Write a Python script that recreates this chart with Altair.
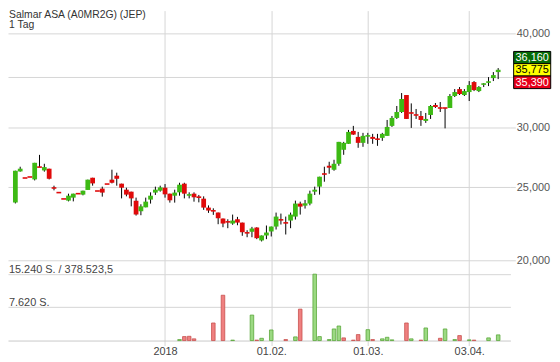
import altair as alt
import pandas as pd

FONT = "Liberation Sans, Arial, sans-serif"

title_lines = ["Salmar ASA (A0MR2G) (JEP)", "1 Tag"]

# candle direction (u = green, d = red)
candle_dir = list(
    "uuddududdd" "duuduudddd" "dddddduuuu" "udduududdd" "dddddudddu"
    "duuuudduud" "uuuudduuuu" "dduudduuuu" "udddduuddd" "uuduuduuuu" "u"
)

opens = [23860, 26240, 25720, 25800, 25610, 26590, 26320, 26460, 24950, 24600,
         24130, 24005, 24225, 24520, 24450, 24800, 25740, 24720, 24900, 25250,
         25590, 25900, 25280, 24820, 24670, 24005, 23240, 23520, 24080, 24600,
         24745, 24970, 24520, 24370, 24620, 25280, 24425, 24520, 24320, 24150,
         23500, 23270, 23150, 22730, 22500, 22385, 22680, 22450, 21760, 21830,
         22115, 21260, 21585, 21850, 22180, 22640, 22430, 22590, 22865, 23790,
         23640, 23790, 24670, 25050, 26035, 26700, 26375, 26860, 28030, 28545,
         29690, 29155, 28630, 29245, 29155, 28955, 29070, 29245, 30150, 30890,
         31455, 33125, 31360, 31170, 31075, 30610, 31170, 32130, 31840, 31840,
         31840, 33025, 33730, 33125, 33425, 34460, 33525, 34250, 34460, 34880,
         35525]
highs = [26300, 26620, 25720, 25800, 26940, 27600, 26860, 26460, 25125, 24600,
         24130, 24520, 24520, 24520, 24745, 25590, 25740, 24720, 25050, 25250,
         26380, 26140, 25280, 24970, 24670, 24225, 23740, 24225, 24620, 25050,
         25125, 25250, 24520, 24820, 25350, 25350, 24620, 24620, 24425, 24320,
         23660, 23450, 23150, 22730, 22680, 23005, 22845, 22450, 21935, 22160,
         22135, 21585, 22250, 22180, 23145, 23075, 22865, 23145, 24005, 23930,
         24055, 24745, 25050, 25820, 26620, 27025, 27190, 28715, 28715, 29780,
         30150, 29600, 29515, 29515, 29425, 29425, 29515, 30700, 31075, 32035,
         33325, 33125, 32290, 31745, 31550, 31360, 32130, 32330, 32425, 31840,
         33225, 33730, 33940, 33730, 34565, 34565, 34040, 34355, 34985, 35525,
         35960]
lows = [23800, 26220, 25720, 25800, 25530, 26590, 26220, 25610, 24770, 24600,
        24130, 23950, 23950, 24520, 24395, 24800, 25125, 24720, 24300, 25250,
        25300, 25125, 24170, 24320, 23590, 22935, 22960, 23520, 23790, 24425,
        24670, 24225, 23860, 23860, 24370, 24170, 24170, 23930, 23880, 23340,
        23125, 22985, 22340, 22135, 22070, 22300, 22270, 21565, 21470, 21470,
        21345, 21195, 21345, 21520, 21980, 22320, 21650, 22070, 22660, 23005,
        23430, 23665, 24425, 24450, 25430, 26055, 26295, 26700, 27605, 28545,
        29335, 28200, 28285, 28545, 28545, 28370, 28805, 29245, 30055, 30795,
        31360, 30795, 29965, 30795, 30150, 30425, 30795, 31840, 31455, 29925,
        31840, 32925, 33125, 33025, 32525, 33525, 33425, 33940, 34040, 34565,
        34775]
closes = [26300, 26460, 25720, 25800, 26940, 26590, 26590, 25660, 24950, 24600,
          24130, 24370, 24520, 24520, 24745, 25590, 25300, 24720, 24600, 25250,
          25350, 25660, 24970, 24450, 24170, 23005, 23590, 23930, 24370, 24820,
          24995, 24470, 24030, 24600, 25200, 24520, 24425, 24250, 24200, 23500,
          23290, 23270, 22750, 22385, 22500, 22590, 22450, 21800, 21760, 22050,
          21410, 21585, 21780, 22180, 22865, 22640, 22430, 23005, 23790, 23570,
          23810, 24520, 24820, 25820, 26035, 26540, 26860, 28715, 28630, 29600,
          29360, 28630, 29245, 29245, 28980, 28955, 29425, 30055, 30890, 31455,
          32725, 30795, 31360, 31170, 30700, 30795, 32035, 31940, 31840, 31840,
          33025, 33425, 33225, 33525, 34145, 33630, 33940, 34250, 34460, 35200,
          35775]

# volume (shares) per candle index, with bar colour
vol_idx = [34, 35, 36, 37, 41, 43, 45, 49, 50, 51, 53, 56, 58, 59, 62, 63, 65, 66, 67, 68,
           70, 71, 73, 74, 76, 77, 78, 81, 82, 84, 85, 88, 89, 91, 92, 94, 95, 98, 100]
vol_vals = [230, 910, 980, 390, 4030, 10400, 100, 5850, 100, 520, 2430, 230, 840, 7210, 15240,
            910, 230, 2660, 3340, 610, 100, 1370, 2500, 230, 390, 750, 160, 4030, 390, 100,
            2890, 520, 2660, 230, 1140, 160, 100, 610, 1300]
vol_dir = list("uddddduuduududuuuuud" "dduduuudududuududuu")

tick_idx = [31, 53, 73, 94]
tick_labels = ["2018", "01.02.", "01.03.", "03.04."]
price_ticks = [20000, 25000, 30000, 35000, 40000]
vol_levels = [15240, 7620]
vol_texts = ["15.240 S. / 378.523,5", "7.620 S."]
box_values = [36160, 35775, 35390]
box_texts = ["36,160", "35,775", "35,390"]

GRID = "#d6d6d6"
UP, DN = "#3dba14", "#e00a0a"

n = len(opens)
df = pd.DataFrame({"i": list(range(n)), "o": opens, "h": highs, "l": lows, "c": closes,
                   "d": candle_dir})
df["col"] = df["d"].map({"u": UP, "d": DN})

vdf = pd.DataFrame({"i": vol_idx, "vol": vol_vals, "d": vol_dir})
vdf["fill"] = vdf["d"].map({"u": "#9bd982", "d": "#ef8080"})
vdf["stroke"] = vdf["d"].map({"u": "#5aa83a", "d": "#c8504e"})

W, H = 507, 333
price_scale = alt.Scale(type="log", domain=[15668, 42852], nice=False, zero=False)
vol_scale = alt.Scale(domain=[0, 75745], nice=False, zero=True)

label_expr = ""
for v, t in zip(tick_idx, tick_labels):
    label_expr += f"datum.value == {v} ? '{t}' : "
label_expr += "''"

x_axis = alt.Axis(values=tick_idx, labelExpr=label_expr, grid=True, gridColor=GRID,
                  tickColor=GRID, tickSize=5, domainColor="#c8c8c8", labelPadding=0,
                  labelFontSize=11, labelColor="#444", labelFont=FONT, title=None,
                  labelFlush=False)
x_enc = alt.X("i:Q", scale=alt.Scale(domain=[-0.5, 101.5], nice=False, zero=False), axis=x_axis)

price_axis = alt.Axis(orient="right", values=price_ticks, format=",d",
                      labelExpr="datum.value == 35000 ? '' : datum.label",
                      grid=True, gridColor=GRID, tickColor=GRID, tickSize=5, domain=False,
                      labelPadding=1, labelFontSize=11, labelColor="#555", labelFont=FONT,
                      title=None)
vol_axis = alt.Axis(orient="left", values=vol_levels, labels=False, ticks=False, domain=False,
                    grid=True, gridColor=GRID, title=None, minExtent=0, maxExtent=0)

base = alt.Chart(df)
wick = base.mark_rule(color="black", strokeWidth=1).encode(
    x=x_enc, y=alt.Y("l:Q", scale=price_scale, axis=price_axis), y2="h:Q")
body = base.mark_bar(width=4.8).encode(
    x=x_enc, y=alt.Y("o:Q", scale=price_scale, axis=price_axis), y2="c:Q",
    color=alt.Color("col:N", scale=None))
dash = base.transform_filter("datum.o == datum.c").mark_rule(
    strokeWidth=1.6, xOffset=-2.4, x2Offset=2.4).encode(
    x=x_enc, x2="i:Q", y=alt.Y("c:Q", scale=price_scale, axis=price_axis),
    color=alt.Color("col:N", scale=None))

anchor = pd.DataFrame({"c": [box_values[1]]})
box_fill = ["#066b06", "#ffff00", "#e6001a"]
box_text_col = ["white", "black", "white"]
box_off = [(-18.5, -6.2), (-6.2, 6.3), (6.3, 19.0)]
box_layers = []
for k in range(3):
    y0, y1 = box_off[k]
    box_layers.append(alt.Chart(anchor).mark_rect(
        yOffset=y0, y2Offset=y1, fill=box_fill[k], stroke="black", strokeWidth=1).encode(
        x=alt.value(510.3), x2=alt.value(547.7),
        y=alt.Y("c:Q", scale=price_scale, axis=price_axis), y2="c:Q"))
for k in range(3):
    y0, y1 = box_off[k]
    box_layers.append(alt.Chart(anchor).mark_text(
        dy=(y0 + y1) / 2 + 0.5, fontSize=11, font=FONT, color=box_text_col[k]).encode(
        x=alt.value(529), y=alt.Y("c:Q", scale=price_scale, axis=price_axis),
        text=alt.value(box_texts[k])))

title = alt.Chart(pd.DataFrame({"a": [0]})).mark_text(
    align="left", baseline="top", fontSize=10.5, font=FONT, color="#333", lineHeight=11).encode(
    x=alt.value(1), y=alt.value(-1), text=alt.value(title_lines))

vbars = alt.Chart(vdf).mark_bar(width=3.6, strokeWidth=0.8).encode(
    x=x_enc, y=alt.Y("vol:Q", scale=vol_scale, axis=vol_axis),
    fill=alt.Fill("fill:N", scale=None), stroke=alt.Stroke("stroke:N", scale=None))
vlab = alt.Chart(pd.DataFrame({"vol": vol_levels, "t": vol_texts})).mark_text(
    align="left", baseline="alphabetic", dy=-1.5, fontSize=11, font=FONT, color="#444").encode(
    x=alt.value(1), y=alt.Y("vol:Q", scale=vol_scale, axis=vol_axis), text="t:N")

price = alt.layer(wick, body, dash, *box_layers, title)
vol = alt.layer(vbars, vlab)

chart = alt.layer(price, vol).resolve_scale(y="independent").properties(
    width=W, height=H, padding=0, background="white"
).configure_view(strokeWidth=0)

chart.save("out.html", embed_options={"renderer": "svg", "actions": False})
